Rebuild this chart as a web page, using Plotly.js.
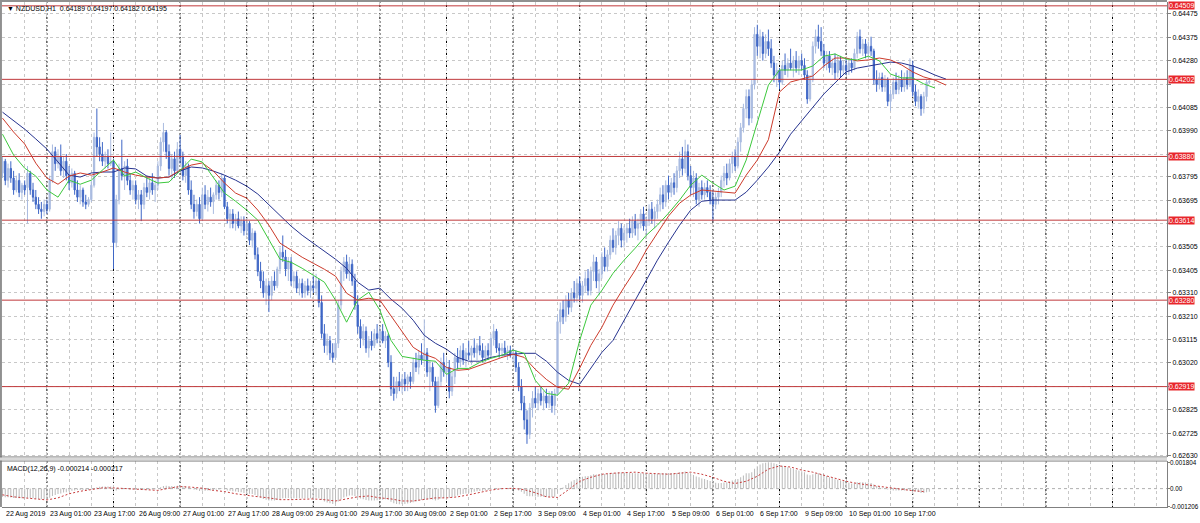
<!DOCTYPE html>
<html><head><meta charset="utf-8">
<script src="https://cdn.plot.ly/plotly-3.0.1.min.js"></script>
<style>html,body{margin:0;padding:0;background:#fff;overflow:hidden}#chart{width:1200px;height:523px}</style>
</head><body><div id="chart"></div>
<script>
// ---------- DATA ----------
const headerText = '\u25BC NZDUSD,H1  0.64189 0.64197 0.64182 0.64195';
const macdText = 'MACD(12,26,9) -0.000214 -0.000217';
const timeLabels = ['22 Aug 2019','23 Aug 01:00','23 Aug 17:00','26 Aug 09:00','27 Aug 01:00','27 Aug 17:00','28 Aug 09:00','29 Aug 01:00','29 Aug 17:00','30 Aug 09:00','2 Sep 01:00','2 Sep 17:00','3 Sep 09:00','4 Sep 01:00','4 Sep 17:00','5 Sep 09:00','6 Sep 01:00','6 Sep 17:00','9 Sep 09:00','10 Sep 01:00','10 Sep 17:00'];
const priceTicks = [0.64475,0.64375,0.64280,0.64180,0.64085,0.63990,0.63890,0.63795,0.63695,0.63600,0.63505,0.63405,0.63310,0.63210,0.63115,0.63020,0.62920,0.62825,0.62725,0.62630];
const levels = [0.64509,0.64202,0.63880,0.63614,0.63280,0.62919];
const macdTicks = [0.001804,0,-0.001206];
const macdTickText = ['0.001804','0.00','-0.001206'];

const open = [
0.6381,0.6386,0.6378,0.6383,0.6379,0.6374,0.6378,0.6373,0.6376,0.6375,
0.6381,0.6374,0.6371,0.6368,0.6366,0.6365,0.6368,0.6366,0.6378,0.6390,
0.6385,0.6388,0.6382,0.6386,0.6380,0.6377,0.6381,0.6374,0.6371,0.6374,
0.6369,0.6368,0.6370,0.6376,0.6396,0.6392,0.6389,0.6386,0.6388,0.6385,
0.6386,0.6352,0.6370,0.6383,0.6380,0.6384,0.6378,0.6374,0.6376,0.6370,
0.6372,0.6368,0.6375,0.6373,0.6377,0.6374,0.6376,0.6384,0.6394,0.6398,
0.6390,0.6383,0.6387,0.6382,0.6391,0.6388,0.6380,0.6384,0.6374,0.6368,
0.6365,0.6368,0.6362,0.6372,0.6368,0.6371,0.6369,0.6372,0.6376,0.6373,
0.6379,0.6367,0.6362,0.6364,0.6360,0.6362,0.6359,0.6361,0.6357,0.6360,
0.6353,0.6356,0.6347,0.6340,0.6336,0.6331,0.6334,0.6330,0.6336,0.6334,
0.6341,0.6348,0.6346,0.6341,0.6344,0.6336,0.6338,0.6333,0.6335,0.6331,
0.6334,0.6332,0.6334,0.6333,0.6336,0.6327,0.6314,0.6309,0.6311,0.6306,
0.6304,0.6310,0.6326,0.6340,0.6344,0.6339,0.6343,0.6336,0.6326,0.6317,
0.6312,0.6315,0.6308,0.6311,0.6309,0.6314,0.6312,0.6315,0.6311,0.6313,
0.6302,0.6291,0.6289,0.6294,0.6292,0.6295,0.6293,0.6296,0.6294,0.6302,
0.6300,0.6305,0.6303,0.6306,0.6298,0.6300,0.6294,0.6284,0.6294,0.6302,
0.6298,0.6300,0.6290,0.6296,0.6304,0.6302,0.6307,0.6303,0.6306,0.6305,
0.6308,0.6306,0.6309,0.6307,0.6304,0.6307,0.6305,0.6312,0.6315,0.6308,
0.6307,0.6308,0.6306,0.6307,0.6305,0.6306,0.6300,0.6292,0.6285,0.6278,
0.6272,0.6283,0.6287,0.6285,0.6289,0.6286,0.6288,0.6285,0.6288,0.6284,
0.6289,0.6319,0.6324,0.6321,0.6328,0.6325,0.6331,0.6329,0.6335,0.6330,
0.6334,0.6337,0.6332,0.6340,0.6344,0.6336,0.6339,0.6346,0.6342,0.6347,
0.6353,0.6350,0.6355,0.6358,0.6353,0.6356,0.6358,0.6356,0.6361,0.6358,
0.6360,0.6364,0.6359,0.6361,0.6366,0.6362,0.6365,0.6368,0.6372,0.6369,
0.6376,0.6373,0.6377,0.6375,0.6382,0.6387,0.6383,0.6390,0.6380,0.6375,
0.6379,0.6370,0.6375,0.6372,0.6375,0.6373,0.6370,0.6368,0.6371,0.6373,
0.6378,0.6381,0.6379,0.6385,0.6388,0.6384,0.6394,0.6400,0.6408,0.6413,
0.6404,0.6418,0.6439,0.6434,0.6438,0.6431,0.6436,0.6433,0.6427,0.6422,
0.6424,0.6419,0.6426,0.6424,0.6427,0.6425,0.6428,0.6425,0.6428,0.6426,
0.6422,0.6412,0.6420,0.6434,0.6438,0.6436,0.6432,0.6427,0.6430,0.6425,
0.6427,0.6423,0.6428,0.6424,0.6426,0.6424,0.6427,0.6425,0.6431,0.6438,
0.6433,0.6435,0.6431,0.6434,0.6432,0.6420,0.6418,0.6421,0.6417,0.6420,
0.6411,0.6414,0.6419,0.6416,0.6420,0.6417,0.6421,0.6418,0.6426,0.6415,
0.6411,0.6413,0.6408,0.6413,0.64189];
const high = [
0.6388,0.6387,0.6385,0.6386,0.6382,0.6380,0.6381,0.6377,0.6378,0.6384,
0.6382,0.6377,0.6374,0.6371,0.6369,0.6370,0.6370,0.6380,0.6393,0.6392,
0.6391,0.6393,0.6388,0.6389,0.6384,0.6383,0.6382,0.6378,0.6376,0.6375,
0.6372,0.6371,0.6378,0.6398,0.6408,0.6396,0.6394,0.6390,0.6391,0.6398,
0.6387,0.6372,0.6385,0.6395,0.6386,0.6387,0.6381,0.6378,0.6378,0.6374,
0.6374,0.6377,0.6380,0.6379,0.6381,0.6378,0.6386,0.6396,0.6402,0.6399,
0.6393,0.6389,0.6390,0.6394,0.6397,0.6390,0.6386,0.6385,0.6378,0.6372,
0.6370,0.6371,0.6375,0.6376,0.6374,0.6375,0.6373,0.6378,0.6378,0.6381,
0.6380,0.6369,0.6366,0.6366,0.6364,0.6365,0.6363,0.6363,0.6362,0.6361,
0.6358,0.6357,0.6350,0.6344,0.6340,0.6337,0.6336,0.6338,0.6340,0.6342,
0.6350,0.6355,0.6349,0.6346,0.6346,0.6340,0.6340,0.6337,0.6337,0.6336,
0.6337,0.6336,0.6338,0.6339,0.6337,0.6330,0.6318,0.6314,0.6313,0.6310,
0.6312,0.6328,0.6342,0.6346,0.6347,0.6346,0.6345,0.6339,0.6330,0.6320,
0.6318,0.6317,0.6313,0.6315,0.6316,0.6318,0.6317,0.6318,0.6315,0.6314,
0.6305,0.6296,0.6296,0.6298,0.6297,0.6298,0.6297,0.6298,0.6304,0.6306,
0.6307,0.6310,0.6320,0.6308,0.6303,0.6302,0.6296,0.6296,0.6304,0.6306,
0.6304,0.6303,0.6298,0.6306,0.6308,0.6309,0.6310,0.6308,0.6311,0.6309,
0.6312,0.6310,0.6313,0.6310,0.6309,0.6310,0.6314,0.6318,0.6316,0.6310,
0.6310,0.6311,0.6309,0.6309,0.6308,0.6307,0.6302,0.6295,0.6288,0.6282,
0.6285,0.6290,0.6292,0.6291,0.6292,0.6290,0.6291,0.6290,0.6290,0.6291,
0.6322,0.6327,0.6328,0.6330,0.6331,0.6333,0.6336,0.6337,0.6338,0.6336,
0.6340,0.6341,0.6342,0.6347,0.6346,0.6341,0.6348,0.6350,0.6349,0.6355,
0.6358,0.6357,0.6361,0.6360,0.6359,0.6360,0.6362,0.6363,0.6364,0.6362,
0.6366,0.6367,0.6363,0.6368,0.6369,0.6367,0.6370,0.6375,0.6376,0.6378,
0.6380,0.6379,0.6381,0.6384,0.6390,0.6392,0.6395,0.6393,0.6384,0.6382,
0.6381,0.6377,0.6378,0.6377,0.6378,0.6376,0.6374,0.6373,0.6375,0.6380,
0.6384,0.6385,0.6387,0.6390,0.6391,0.6396,0.6402,0.6410,0.6416,0.6416,
0.6420,0.6442,0.6443,0.6441,0.6440,0.6439,0.6441,0.6437,0.6430,0.6427,
0.6425,0.6428,0.6431,0.6429,0.6433,0.6430,0.6432,0.6430,0.6431,0.6429,
0.6424,0.6422,0.6436,0.6441,0.6443,0.6442,0.6435,0.6432,0.6432,0.6429,
0.6431,0.6430,0.6430,0.6428,0.6429,0.6428,0.6429,0.6433,0.6440,0.6441,
0.6437,0.6437,0.6436,0.6438,0.6433,0.6424,0.6423,0.6423,0.6422,0.6421,
0.6416,0.6421,0.6423,0.6422,0.6424,0.6423,0.6424,0.6429,0.6428,0.6418,
0.6416,0.6414,0.6415,0.6420,0.64197];
const low = [
0.6379,0.6376,0.6375,0.6377,0.6372,0.6373,0.6371,0.6370,0.6372,0.6360,
0.6372,0.6369,0.6366,0.6364,0.6362,0.6363,0.6364,0.6365,0.6377,0.6382,
0.6383,0.6380,0.6379,0.6378,0.6374,0.6375,0.6372,0.6369,0.6368,0.6367,
0.6366,0.6367,0.6369,0.6375,0.6388,0.6386,0.6384,0.6383,0.6383,0.6384,
0.6341,0.6350,0.6368,0.6378,0.6374,0.6376,0.6372,0.6370,0.6368,0.6366,
0.6361,0.6366,0.6371,0.6370,0.6372,0.6369,0.6374,0.6382,0.6390,0.6387,
0.6380,0.6378,0.6379,0.6381,0.6385,0.6378,0.6377,0.6372,0.6366,0.6362,
0.6363,0.6360,0.6361,0.6366,0.6365,0.6367,0.6364,0.6370,0.6370,0.6371,
0.6366,0.6360,0.6358,0.6358,0.6357,0.6358,0.6356,0.6355,0.6355,0.6351,
0.6350,0.6345,0.6338,0.6333,0.6329,0.6326,0.6323,0.6328,0.6332,0.6333,
0.6339,0.6344,0.6338,0.6336,0.6334,0.6333,0.6331,0.6330,0.6329,0.6329,
0.6330,0.6329,0.6331,0.6330,0.6325,0.6312,0.6306,0.6305,0.6303,0.6302,
0.6303,0.6308,0.6324,0.6336,0.6337,0.6336,0.6334,0.6324,0.6314,0.6308,
0.6309,0.6306,0.6304,0.6307,0.6308,0.6310,0.6309,0.6310,0.6308,0.6300,
0.6288,0.6286,0.6287,0.6290,0.6289,0.6290,0.6290,0.6291,0.6293,0.6298,
0.6297,0.6301,0.6300,0.6296,0.6290,0.6292,0.6281,0.6283,0.6292,0.6296,
0.6294,0.6287,0.6288,0.6293,0.6299,0.6300,0.6301,0.6300,0.6303,0.6301,
0.6304,0.6303,0.6305,0.6302,0.6302,0.6303,0.6304,0.6309,0.6306,0.6304,
0.6304,0.6305,0.6303,0.6304,0.6302,0.6298,0.6290,0.6282,0.6274,0.6268,
0.6270,0.6279,0.6283,0.6282,0.6284,0.6282,0.6283,0.6283,0.6281,0.6280,
0.6288,0.6314,0.6318,0.6319,0.6322,0.6323,0.6327,0.6327,0.6328,0.6327,
0.6331,0.6330,0.6330,0.6336,0.6333,0.6330,0.6337,0.6340,0.6340,0.6345,
0.6348,0.6347,0.6351,0.6350,0.6350,0.6352,0.6354,0.6354,0.6355,0.6353,
0.6358,0.6357,0.6355,0.6359,0.6360,0.6358,0.6362,0.6365,0.6366,0.6367,
0.6370,0.6371,0.6372,0.6373,0.6379,0.6380,0.6381,0.6378,0.6372,0.6371,
0.6368,0.6367,0.6370,0.6370,0.6371,0.6368,0.6361,0.6366,0.6368,0.6371,
0.6375,0.6376,0.6378,0.6381,0.6382,0.6383,0.6390,0.6398,0.6404,0.6401,
0.6402,0.6416,0.6430,0.6429,0.6428,0.6429,0.6430,0.6425,0.6419,0.6417,
0.6416,0.6418,0.6422,0.6421,0.6424,0.6421,0.6423,0.6422,0.6424,0.6420,
0.6410,0.6411,0.6419,0.6431,0.6433,0.6430,0.6425,0.6424,0.6423,0.6422,
0.6420,0.6421,0.6421,0.6422,0.6422,0.6422,0.6423,0.6424,0.6429,0.6431,
0.6430,0.6429,0.6429,0.6430,0.6418,0.6415,0.6416,0.6415,0.6415,0.6409,
0.6407,0.6412,0.6414,0.6414,0.6415,0.6415,0.6416,0.6417,0.6413,0.6409,
0.6408,0.6405,0.6406,0.6411,0.64182];
const close = [
0.6386,0.6378,0.6383,0.6379,0.6374,0.6378,0.6373,0.6376,0.6374,0.6381,
0.6374,0.6371,0.6368,0.6366,0.6365,0.6368,0.6366,0.6378,0.6390,0.6385,
0.6388,0.6382,0.6386,0.6380,0.6377,0.6381,0.6374,0.6371,0.6374,0.6369,
0.6368,0.6370,0.6376,0.6396,0.6392,0.6389,0.6386,0.6388,0.6385,0.6386,
0.6352,0.6370,0.6383,0.6380,0.6384,0.6378,0.6374,0.6376,0.6370,0.6372,
0.6368,0.6375,0.6373,0.6377,0.6374,0.6376,0.6384,0.6394,0.6398,0.6390,
0.6383,0.6387,0.6382,0.6391,0.6388,0.6380,0.6384,0.6374,0.6368,0.6365,
0.6368,0.6362,0.6372,0.6368,0.6371,0.6369,0.6372,0.6376,0.6373,0.6379,
0.6367,0.6362,0.6364,0.6360,0.6362,0.6359,0.6361,0.6357,0.6360,0.6353,
0.6356,0.6347,0.6340,0.6336,0.6331,0.6334,0.6330,0.6336,0.6334,0.6341,
0.6348,0.6346,0.6341,0.6344,0.6336,0.6338,0.6333,0.6335,0.6331,0.6334,
0.6332,0.6334,0.6333,0.6336,0.6327,0.6314,0.6309,0.6311,0.6306,0.6304,
0.6310,0.6326,0.6340,0.6344,0.6339,0.6343,0.6336,0.6326,0.6317,0.6312,
0.6315,0.6308,0.6311,0.6309,0.6314,0.6312,0.6315,0.6311,0.6313,0.6302,
0.6291,0.6289,0.6294,0.6292,0.6295,0.6293,0.6296,0.6294,0.6302,0.6300,
0.6305,0.6303,0.6306,0.6298,0.6300,0.6294,0.6284,0.6294,0.6302,0.6298,
0.6300,0.6290,0.6296,0.6304,0.6302,0.6307,0.6303,0.6306,0.6305,0.6308,
0.6306,0.6309,0.6307,0.6304,0.6307,0.6305,0.6312,0.6315,0.6308,0.6307,
0.6308,0.6306,0.6307,0.6305,0.6306,0.6300,0.6292,0.6285,0.6278,0.6272,
0.6283,0.6287,0.6285,0.6289,0.6286,0.6288,0.6285,0.6288,0.6284,0.6289,
0.6319,0.6324,0.6321,0.6328,0.6325,0.6331,0.6329,0.6335,0.6330,0.6334,
0.6337,0.6332,0.6340,0.6344,0.6336,0.6339,0.6346,0.6342,0.6347,0.6353,
0.6350,0.6355,0.6358,0.6353,0.6356,0.6358,0.6356,0.6361,0.6358,0.6360,
0.6364,0.6359,0.6361,0.6366,0.6362,0.6365,0.6368,0.6372,0.6369,0.6376,
0.6373,0.6377,0.6375,0.6382,0.6387,0.6383,0.6390,0.6380,0.6375,0.6379,
0.6370,0.6375,0.6372,0.6375,0.6373,0.6370,0.6368,0.6371,0.6373,0.6378,
0.6381,0.6379,0.6385,0.6388,0.6384,0.6394,0.6400,0.6408,0.6413,0.6404,
0.6418,0.6439,0.6434,0.6438,0.6431,0.6436,0.6433,0.6427,0.6422,0.6424,
0.6419,0.6426,0.6424,0.6427,0.6425,0.6428,0.6425,0.6428,0.6426,0.6422,
0.6412,0.6420,0.6434,0.6438,0.6436,0.6432,0.6427,0.6430,0.6425,0.6427,
0.6423,0.6428,0.6424,0.6426,0.6424,0.6427,0.6425,0.6431,0.6438,0.6433,
0.6435,0.6431,0.6434,0.6432,0.6420,0.6418,0.6421,0.6417,0.6420,0.6411,
0.6414,0.6419,0.6416,0.6420,0.6417,0.6421,0.6418,0.6426,0.6415,0.6411,
0.6413,0.6408,0.6413,0.6419,0.64195];

// Alligator lines, one value every MA_STEP bars
const jaw = [
0.64065,0.64028,0.63994,0.63953,0.63911,0.63857,0.63802,0.63794,0.63811,0.63815,
0.63815,0.63832,0.63828,0.63798,0.63790,0.63794,0.63819,0.63836,0.63832,0.63819,
0.63802,0.63781,0.63756,0.63723,0.63677,0.63635,0.63589,0.63551,0.63518,0.63484,
0.63451,0.63413,0.63355,0.63322,0.63330,0.63284,0.63246,0.63196,0.63133,0.63100,
0.63075,0.63041,0.63025,0.63025,0.63041,0.63050,0.63054,0.63058,0.63058,0.63025,
0.62979,0.62945,0.62929,0.62996,0.63062,0.63112,0.63196,0.63280,0.63363,0.63447,
0.63522,0.63593,0.63656,0.63693,0.63698,0.63698,0.63698,0.63731,0.63781,0.63836,
0.63898,0.63973,0.64028,0.64082,0.64141,0.64187,0.64233,0.64249,0.64258,0.64266,
0.64274,0.64270,0.64258,0.64241,0.64220,0.64203];
const teeth = [
0.64040,0.63982,0.63932,0.63852,0.63790,0.63764,0.63798,0.63811,0.63802,0.63815,
0.63832,0.63815,0.63802,0.63794,0.63790,0.63794,0.63823,0.63844,0.63853,0.63819,
0.63769,0.63727,0.63706,0.63656,0.63593,0.63518,0.63489,0.63459,0.63434,0.63409,
0.63380,0.63309,0.63280,0.63288,0.63280,0.63213,0.63150,0.63083,0.63054,0.63037,
0.62999,0.62987,0.62991,0.63008,0.63025,0.63041,0.63054,0.63041,0.62991,0.62949,
0.62916,0.62908,0.62996,0.63091,0.63167,0.63259,0.63334,0.63405,0.63489,0.63560,
0.63631,0.63685,0.63719,0.63740,0.63735,0.63731,0.63727,0.63802,0.63865,0.63950,
0.64149,0.64191,0.64203,0.64216,0.64258,0.64291,0.64291,0.64279,0.64283,0.64291,
0.64283,0.64262,0.64233,0.64212,0.64199,0.64178];
const lips = [
0.63973,0.63886,0.63831,0.63798,0.63740,0.63710,0.63781,0.63764,0.63781,0.63823,
0.63865,0.63798,0.63815,0.63790,0.63769,0.63773,0.63823,0.63869,0.63857,0.63790,
0.63727,0.63693,0.63656,0.63614,0.63530,0.63451,0.63438,0.63413,0.63384,0.63355,
0.63280,0.63188,0.63280,0.63313,0.63238,0.63112,0.63045,0.63037,0.63029,0.63025,
0.62970,0.62995,0.62995,0.63020,0.63037,0.63050,0.63071,0.63058,0.62945,0.62891,
0.62883,0.62933,0.63112,0.63259,0.63321,0.63392,0.63447,0.63497,0.63551,0.63593,
0.63643,0.63698,0.63760,0.63802,0.63769,0.63740,0.63756,0.63865,0.64024,0.64178,
0.64241,0.64241,0.64241,0.64258,0.64299,0.64308,0.64287,0.64283,0.64299,0.64279,
0.64224,0.64208,0.64208,0.64183,0.64166];

// MACD main (histogram), one per bar
const macdMain = [
-0.00055,-0.00058,-0.00058,-0.0006,-0.00063,-0.00063,-0.00066,-0.00066,-0.00066,-0.00062,
-0.00063,-0.00066,-0.00069,-0.00071,-0.00072,-0.0007,-0.0007,-0.00062,-0.0005,-0.00043,
-0.00036,-0.00033,-0.00027,-0.00024,-0.00018,-0.00014,-0.00012,-0.0001,-0.0001,-0.0001,
-0.0001,-0.00009,-0.00006,0.00002,0.0001,0.00013,0.00014,0.00015,0.00015,0.00014,
-0.00008,-0.00012,-0.00006,-0.00004,-0.00002,-0.00003,-0.00005,-0.00006,-0.00008,-0.00008,
-0.0001,-0.00008,-0.00008,-0.00006,-0.00006,-0.00005,0.00001,0.0001,0.00018,0.0002,
0.00018,0.00018,0.00016,0.00019,0.0002,0.00017,0.00015,0.0001,0.00002,-0.00006,
-0.0001,-0.00016,-0.00014,-0.00014,-0.00013,-0.00013,-0.00012,-0.00008,-0.00006,-0.00002,
-0.00006,-0.00012,-0.00014,-0.00018,-0.0002,-0.00023,-0.00025,-0.00029,-0.0003,-0.00035,
-0.00037,-0.00043,-0.00053,-0.00062,-0.00071,-0.00075,-0.0008,-0.0008,-0.0008,-0.00077,
-0.0007,-0.00066,-0.00066,-0.00064,-0.00066,-0.00066,-0.00067,-0.00066,-0.00067,-0.00066,
-0.00066,-0.00065,-0.00064,-0.00062,-0.00066,-0.00077,-0.00088,-0.00094,-0.001,-0.00104,
-0.00102,-0.00088,-0.00072,-0.0006,-0.00053,-0.00047,-0.00046,-0.0005,-0.0006,-0.00068,
-0.00072,-0.00077,-0.0008,-0.00081,-0.0008,-0.00079,-0.00076,-0.00075,-0.00073,-0.00078,
-0.0009,-0.001,-0.00104,-0.00106,-0.00105,-0.00104,-0.00101,-0.00098,-0.00092,-0.00088,
-0.00082,-0.00078,-0.00073,-0.00074,-0.00073,-0.00074,-0.0008,-0.00076,-0.00068,-0.00064,
-0.0006,-0.00062,-0.00058,-0.00051,-0.00046,-0.0004,-0.00037,-0.00033,-0.0003,-0.00026,
-0.00022,-0.00018,-0.00016,-0.00015,-0.00012,-0.0001,-0.00005,0.00001,0.00002,0.00002,
0.00002,0.00002,0.00001,0.0,-0.00001,-0.00004,-0.00012,-0.00022,-0.00035,-0.0005,
-0.00052,-0.00052,-0.00054,-0.00055,-0.00056,-0.00056,-0.00057,-0.00056,-0.00057,-0.00055,
-0.00028,-0.00008,0.00008,0.00025,0.00036,0.00048,0.00058,0.00068,0.00074,0.0008,
0.00085,0.00086,0.00091,0.00097,0.00096,0.00096,0.001,0.001,0.00101,0.00105,
0.00107,0.00108,0.00111,0.0011,0.00109,0.00108,0.00107,0.00107,0.00105,0.00104,
0.00105,0.00103,0.00101,0.00103,0.00102,0.00101,0.00101,0.00104,0.00104,0.00106,
0.00105,0.00106,0.00104,0.00106,0.00111,0.00112,0.00116,0.00108,0.00098,0.00092,
0.00082,0.00077,0.00069,0.00065,0.00059,0.00052,0.00045,0.0004,0.00036,0.00038,
0.00042,0.00043,0.00049,0.00056,0.00057,0.00066,0.00077,0.0009,0.00104,0.00104,
0.00112,0.00135,0.00152,0.00164,0.00172,0.00176,0.00179,0.00178,0.00172,0.00167,
0.00158,0.00155,0.00149,0.00145,0.0014,0.00133,0.00128,0.00124,0.00119,0.00111,
0.00096,0.00091,0.00098,0.00104,0.00104,0.001,0.00092,0.00086,0.00078,0.00072,
0.00064,0.00061,0.00055,0.0005,0.00044,0.0004,0.00035,0.00037,0.00043,0.00044,
0.00044,0.00042,0.00041,0.00039,0.00028,0.00018,0.00012,0.00006,0.00003,-0.00006,
-0.00011,-0.00012,-0.00013,-0.00012,-0.00013,-0.00012,-0.00013,-0.00007,-0.00012,-0.00019,
-0.00023,-0.00029,-0.00029,-0.00025,-0.000214];
// MACD signal, one value every MA_STEP bars
const macdSignal = [
-0.00042,-0.00056,-0.00063,-0.0007,-0.00077,-0.00063,-0.00035,-0.00018,-0.00005,0.00005,
0.00005,0,-0.00003,-0.00007,-0.00012,0.00003,0.00014,0.0001,0.00003,-0.00012,
-0.0002,-0.00035,-0.00047,-0.00055,-0.00063,-0.00075,-0.00075,-0.0007,-0.0007,-0.00075,
-0.00084,-0.0007,-0.00056,-0.0005,-0.00063,-0.0007,-0.00084,-0.00084,-0.00074,-0.00063,
-0.00063,-0.00056,-0.00042,-0.00025,-0.0001,0,0.00002,-0.00007,-0.00028,-0.00056,
-0.0006,-0.00007,0.0005,0.00077,0.00098,0.00105,0.00108,0.00112,0.00105,0.00102,
0.00098,0.00105,0.00112,0.00098,0.00077,0.0005,0.00035,0.0005,0.00084,0.00133,
0.00154,0.00147,0.00126,0.00112,0.00091,0.0007,0.0005,0.00035,0.00025,0.00014,
0.00003,-0.00007,-0.00014,-0.0002];

// ---------- STYLE ----------
const MA_STEP = 4, LABEL_STEP = 16, GRID_STEP = 8, SEP_START = 16, SEP_STEP = 24;
const BULL = '#a9bbe0', BEAR = '#3f67c6';
const FONT = 'Liberation Sans, Arial, sans-serif';
const X_RANGE = [-0.18, 419.64];
const MAIN_DOM = [0.099, 1], MACD_DOM = [0, 0.0911];

const bars = open.map((_, i) => i);
const stepX = arr => arr.map((_, k) => k * MA_STEP);
// tick labels that sit under a level box are left blank (they are hidden in the chart)
const hiddenTick = v => levels.some(l => Math.abs(l - v) < 0.00025);

const traces = [
  {type:'candlestick', x:bars, open:open, high:high, low:low, close:close, xaxis:'x', yaxis:'y',
   increasing:{line:{color:BULL,width:1}, fillcolor:BULL},
   decreasing:{line:{color:BEAR,width:1}, fillcolor:BEAR},
   whiskerwidth:0, hoverinfo:'skip'},
  {type:'scatter', mode:'lines', x:stepX(jaw), y:jaw, line:{color:'#26338f', width:1}, hoverinfo:'skip'},
  {type:'scatter', mode:'lines', x:stepX(teeth), y:teeth, line:{color:'#cc3a2a', width:1}, hoverinfo:'skip'},
  {type:'scatter', mode:'lines', x:stepX(lips), y:lips, line:{color:'#3cc83c', width:1}, hoverinfo:'skip'},
  {type:'bar', x:bars, y:macdMain, xaxis:'x', yaxis:'y2', width:0.38, marker:{color:'#bdbdbd', line:{width:0}}, hoverinfo:'skip'},
  {type:'scatter', mode:'lines', x:stepX(macdSignal), y:macdSignal, xaxis:'x', yaxis:'y2', line:{color:'#c83c3c', width:1, dash:'2px,2px'}, hoverinfo:'skip'}
];

const shapes = [];
for (let s = SEP_START; s < X_RANGE[1]; s += SEP_STEP) {
  shapes.push({type:'line', xref:'x', yref:'paper', x0:s, x1:s, y0:0, y1:1, line:{color:'#000', width:1, dash:'2px,2px'}, layer:'between'});
}
levels.forEach(v => shapes.push({type:'line', xref:'paper', yref:'y', x0:0, x1:1, y0:v, y1:v, line:{color:'#c0393b', width:1}, layer:'above'}));
shapes.push({type:'line', xref:'paper', yref:'y2', x0:0, x1:1, y0:0, y1:0, line:{color:'#b0b0b0', width:1, dash:'3px,3px'}, layer:'between'});
shapes.push({type:'line', xref:'paper', yref:'paper', x0:-0.0017, x1:1, y0:1.002, y1:1.002, line:{color:'#909090', width:2}});
shapes.push({type:'line', xref:'paper', yref:'paper', x0:-0.0009, x1:-0.0009, y0:0, y1:1.004, line:{color:'#909090', width:2}});
shapes.push({type:'line', xref:'paper', yref:'paper', x0:-0.002, x1:1, y0:MAIN_DOM[0], y1:MAIN_DOM[0], line:{color:'#707070', width:1}});
shapes.push({type:'line', xref:'paper', yref:'paper', x0:-0.002, x1:1, y0:MACD_DOM[1], y1:MACD_DOM[1], line:{color:'#707070', width:1}});
shapes.push({type:'rect', xref:'paper', yref:'paper', x0:-0.002, x1:1, y0:MACD_DOM[1]+0.001, y1:MAIN_DOM[0]-0.001, fillcolor:'#d8d8d8', line:{width:0}});

const annotations = [];
timeLabels.forEach((t, k) => annotations.push({text:t, xref:'x', yref:'paper', x:k*LABEL_STEP, y:0, xanchor:'left', yanchor:'top', xshift:1, yshift:-1, showarrow:false, font:{family:FONT, size:7, color:'#000'}}));
levels.forEach(v => annotations.push({text:v.toFixed(5), xref:'paper', yref:'y', x:1, y:v, xanchor:'left', yanchor:'middle', xshift:1, showarrow:false, bgcolor:'#e8262b', borderpad:0, font:{family:FONT, size:7, color:'#fff'}}));
macdTicks.forEach((v, k) => annotations.push({text:macdTickText[k], xref:'paper', yref:'y2', x:1, y:v, xanchor:'left', yanchor:'middle', xshift:1, showarrow:false, font:{family:FONT, size:6.3, color:'#000'}}));
annotations.push({text:headerText, xref:'paper', yref:'paper', x:0, y:1, xanchor:'left', yanchor:'top', xshift:3, yshift:-1, showarrow:false, font:{family:FONT, size:7, color:'#000'}});
annotations.push({text:macdText, xref:'paper', yref:'paper', x:0, y:MACD_DOM[1], xanchor:'left', yanchor:'top', xshift:3, yshift:-2, showarrow:false, font:{family:FONT, size:7, color:'#000'}});

const layout = {
  width:1200, height:523, margin:{l:2, r:33, t:2, b:16},
  paper_bgcolor:'#ffffff', plot_bgcolor:'#ffffff', showlegend:false, boxgap:0.35,
  xaxis:{range:X_RANGE, anchor:'y2', tickmode:'linear', tick0:0, dtick:GRID_STEP, showticklabels:false, ticks:'',
         showgrid:true, gridcolor:'#c8c8c8', griddash:'dot', gridwidth:1, zeroline:false, showline:true, linecolor:'#808080',
         rangeslider:{visible:false}, fixedrange:true},
  yaxis:{domain:MAIN_DOM, range:[0.62625, 0.64525], side:'right', anchor:'x', tickmode:'array', tickvals:priceTicks,
         ticktext:priceTicks.map(v => hiddenTick(v) ? '' : v.toFixed(5)), tickfont:{family:FONT, size:7, color:'#000'}, ticks:'outside', ticklen:3, tickcolor:'#808080',
         showgrid:true, gridcolor:'#c8c8c8', griddash:'dot', zeroline:false, showline:true, linecolor:'#808080', fixedrange:true},
  yaxis2:{domain:MACD_DOM, range:[-0.00125, 0.00188], side:'right', anchor:'x', tickmode:'array', tickvals:macdTicks, ticktext:['','',''],
          ticks:'outside', ticklen:2, tickcolor:'#808080',
          showgrid:false, zeroline:false, showline:true, linecolor:'#808080', fixedrange:true},
  shapes:shapes, annotations:annotations
};

Plotly.newPlot('chart', traces, layout, {staticPlot:true, displayModeBar:false});
</script></body></html>
